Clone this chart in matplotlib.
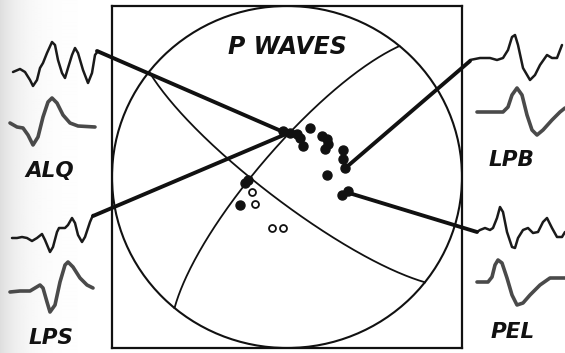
import numpy as np
import matplotlib
matplotlib.use("Agg")
import matplotlib.pyplot as plt
from matplotlib.patches import Circle, ConnectionPatch

W, H = 565, 353

# --- seismograms, digitised on the page (x right, y down, in px) ---
alq_short_x = [13, 20, 25, 30, 33, 37, 40, 43, 47, 52, 55, 58, 62, 65, 68, 72, 75, 78, 83, 88, 92, 95, 98]
alq_short_y = [72, 69, 72, 80, 86, 80, 68, 63, 53, 42, 45, 60, 73, 78, 68, 55, 48, 53, 70, 83, 73, 55, 51]
alq_long_x = [10, 17, 23, 28, 33, 38, 43, 48, 52, 57, 63, 70, 78, 95]
alq_long_y = [123, 127, 128, 135, 145, 137, 117, 102, 98, 103, 115, 123, 126, 127]

lps_short_x = [12, 17, 22, 27, 32, 37, 42, 45, 50, 53, 57, 59, 65, 68, 72, 75, 78, 82, 85, 90, 93]
lps_short_y = [238, 238, 237, 238, 241, 238, 234, 240, 252, 247, 232, 228, 228, 225, 218, 223, 235, 242, 237, 222, 215]
lps_long_x = [10, 20, 30, 40, 43, 47, 50, 55, 60, 65, 68, 73, 80, 87, 93]
lps_long_y = [292, 291, 291, 285, 288, 302, 312, 305, 282, 265, 262, 267, 278, 285, 288]

lpb_short_x = [470, 480, 490, 497, 503, 508, 512, 515, 518, 523, 530, 535, 540, 547, 552, 557, 562]
lpb_short_y = [60, 58, 58, 60, 58, 50, 37, 35, 45, 68, 80, 75, 65, 55, 58, 58, 45]
lpb_long_x = [477, 490, 503, 508, 512, 517, 522, 527, 532, 537, 543, 552, 560, 565]
lpb_long_y = [112, 112, 112, 107, 95, 88, 95, 115, 130, 135, 130, 120, 112, 108]

pel_short_x = [477, 480, 485, 490, 493, 497, 500, 503, 507, 512, 515, 518, 523, 528, 533, 538, 543, 547, 552, 557, 562, 565]
pel_short_y = [232, 230, 228, 230, 228, 218, 207, 212, 232, 247, 248, 238, 230, 228, 233, 232, 222, 218, 228, 237, 237, 232]
pel_long_x = [477, 488, 492, 495, 498, 502, 507, 512, 517, 523, 530, 540, 550, 565]
pel_long_y = [282, 282, 277, 265, 260, 263, 278, 295, 305, 303, 295, 285, 278, 278]

# stations: label, label position, trace end where the leader starts, polarity it points to (net coords)
stations = ["ALQ", "LPS", "LPB", "PEL"]
label_x = [50, 51, 511, 513]
label_y = [171, 338, 160, 332]
leader_x = [97, 93, 470, 477]
leader_y = [51, 216, 61, 232]
target_x = [0.0, -0.02, 0.331, 0.343]
target_y = [0.254, 0.245, 0.050, -0.090]

# --- first-motion polarities on the lower hemisphere (unit-radius net) ---
comp_x = [-0.023, 0.017, 0.057, 0.131, 0.074, 0.091, 0.200, 0.229, 0.234, 0.217,
          0.320, 0.320, 0.331, 0.229, 0.314, 0.349, -0.223, -0.240, -0.269]
comp_y = [0.271, 0.259, 0.254, 0.289, 0.230, 0.184, 0.242, 0.224, 0.195, 0.166,
          0.155, 0.108, 0.055, 0.009, -0.108, -0.079, -0.020, -0.038, -0.166]
dil_x = [-0.200, -0.183, -0.086, -0.023]
dil_y = [-0.090, -0.155, -0.300, -0.300]

# nodal planes (strike, dip), right-hand rule
plane_strike = [128, 220]
plane_dip = [79, 77]


def great_circle(strike, dip, n=181):
    s, d = np.radians(strike), np.radians(dip)
    t = np.linspace(0, np.pi, n)
    sv = np.array([np.sin(s), np.cos(s), 0.0])
    dv = np.array([np.cos(d) * np.sin(s + np.pi / 2), np.cos(d) * np.cos(s + np.pi / 2), -np.sin(d)])
    v = np.outer(np.cos(t), sv) + np.outer(np.sin(t), dv)
    trend = np.arctan2(v[:, 0], v[:, 1])
    plunge = np.arcsin(np.clip(-v[:, 2], -1, 1))
    r = np.sqrt(2) * np.sin((np.pi / 2 - plunge) / 2)   # equal-area
    return r * np.sin(trend), r * np.cos(trend)


fig = plt.figure(figsize=(W / 100, H / 100), dpi=100)
fig.patch.set_facecolor("white")

bg = fig.add_axes([0, 0, 1, 1])
bg.set_xlim(0, W)
bg.set_ylim(H, 0)
bg.axis("off")

# scanner shading along the left margin
xx = np.arange(W)
shade = 1 - 0.13 * np.exp(-xx / 22.0)
bg.imshow(np.tile(shade, (8, 1)), extent=[0, W, H, 0], cmap="gray", vmin=0, vmax=1,
          aspect="auto", zorder=0, interpolation="bilinear")

short_traces = [(alq_short_x, alq_short_y), (lps_short_x, lps_short_y),
                (lpb_short_x, lpb_short_y), (pel_short_x, pel_short_y)]
long_traces = [(alq_long_x, alq_long_y), (lps_long_x, lps_long_y),
               (lpb_long_x, lpb_long_y), (pel_long_x, pel_long_y)]
for x, y in short_traces:
    bg.plot(x, y, color="#1a1a1a", lw=1.8, solid_joinstyle="round", solid_capstyle="round", zorder=2)
for x, y in long_traces:
    bg.plot(x, y, color="#4a4a4a", lw=2.6, solid_joinstyle="round", solid_capstyle="round", zorder=2)

for name, lx, ly in zip(stations, label_x, label_y):
    bg.text(lx, ly, name, ha="center", va="center", fontsize=15.5, fontweight="bold",
            fontstyle="italic", family="DejaVu Sans", color="#111111")

# stereonet box
net = fig.add_axes([112 / W, 1 - 348 / H, 350 / W, 342 / H])
net.set_xlim(-1, 1)
net.set_ylim(-1, 1)
net.patch.set_visible(False)
net.set_xticks([])
net.set_yticks([])
for sp in net.spines.values():
    sp.set_linewidth(1.6)
    sp.set_color("#111111")

net.add_patch(Circle((0, 0), 1, fill=False, lw=1.5, ec="#111111"))
for st, dp in zip(plane_strike, plane_dip):
    gx, gy = great_circle(st, dp)
    net.plot(gx, gy, color="#111111", lw=1.3)

net.plot(comp_x, comp_y, "o", ms=6.5, mfc="#111111", mec="#111111", lw=0)
net.plot(dil_x, dil_y, "o", ms=5, mfc="white", mec="#111111", mew=1.3, lw=0)

net.text(0, 0.76, "P WAVES", ha="center", va="center", fontsize=17, fontweight="bold",
         fontstyle="italic", family="DejaVu Sans", color="#111111")

# leaders from each seismogram to its polarity on the net
for sx, sy, tx, ty in zip(leader_x, leader_y, target_x, target_y):
    con = ConnectionPatch(xyA=(sx, sy), coordsA=bg.transData, xyB=(tx, ty), coordsB=net.transData,
                          color="#111111", lw=2.8, capstyle="round")
    fig.add_artist(con)

fig.savefig("out.png", dpi=100)
